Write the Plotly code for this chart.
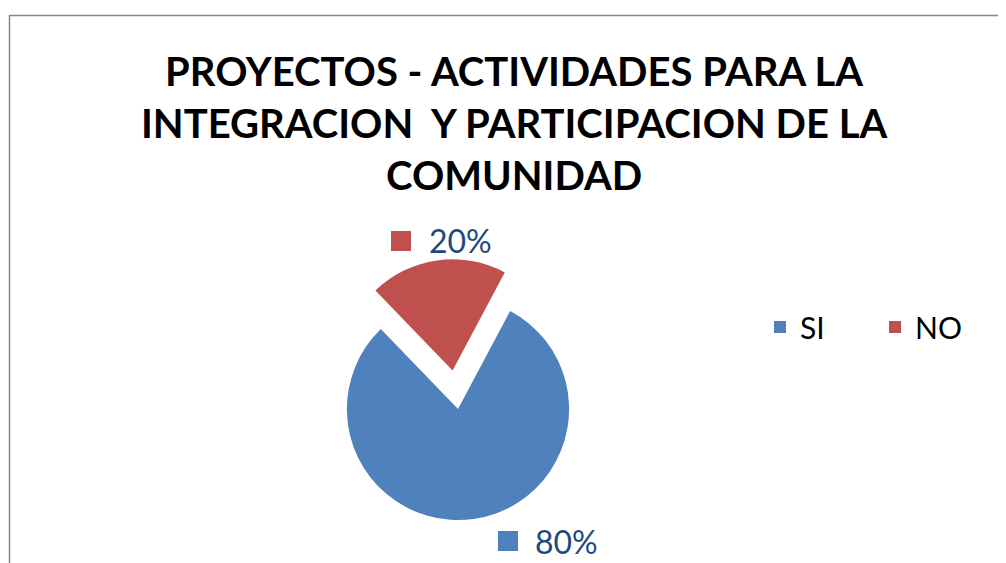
import plotly.graph_objects as go

labels = ["SI", "NO"]
values = [80, 20]
colors = ["#4F81BD", "#C0504D"]
pulls = [0, 0.35]
title_lines = ["PROYECTOS - ACTIVIDADES PARA LA", "INTEGRACION  Y PARTICIPACION DE LA", "COMUNIDAD"]

W, H = 1006, 563
OFF = 8  # page body margin offset


def px(x):
    return (x - OFF) / W


def py(y):
    return 1 - (y - OFF) / H


total = sum(values)
pct_text = ["%d%%" % round(v * 100 / total) for v in values]

fig = go.Figure(go.Pie(
    labels=labels,
    values=values,
    marker=dict(colors=colors, line=dict(width=0)),
    pull=pulls,
    sort=False,
    direction="clockwise",
    rotation=28,
    textinfo="none",
    automargin=False,
    domain=dict(x=[px(308), px(608)], y=[py(559), py(259)]),
    showlegend=True,
))

# data label positions (window pixels): square centre and text left edge
label_sq = [(508, 541), (401, 241)]
label_tx = [(533, 541), (427, 241)]

annotations = [dict(
    text="<b>" + "<br>".join(title_lines) + "</b>",
    xref="paper", yref="paper", x=px(513.5), y=py(123),
    xanchor="center", yanchor="middle", showarrow=False,
    font=dict(family="Lato", size=40, color="black"),
)]
for i in range(len(values)):
    sx, sy = label_sq[i]
    tx, ty = label_tx[i]
    annotations.append(dict(
        text=" ", xref="paper", yref="paper", x=px(sx), y=py(sy),
        xanchor="center", yanchor="middle", showarrow=False,
        width=20, height=20, bgcolor=colors[i], borderpad=0, borderwidth=0,
        font=dict(size=2),
    ))
    annotations.append(dict(
        text=pct_text[i], xref="paper", yref="paper", x=px(tx), y=py(ty),
        xanchor="left", yanchor="middle", showarrow=False,
        font=dict(family="Lato", size=32, color="#1F497D"),
    ))

fig.update_layout(
    width=W, height=H,
    margin=dict(l=0, r=0, t=0, b=0),
    paper_bgcolor="white",
    plot_bgcolor="white",
    legend=dict(
        orientation="h",
        x=px(760), xanchor="left",
        y=py(327), yanchor="middle",
        font=dict(family="Lato", size=30, color="black"),
        entrywidth=70, entrywidthmode="pixels",
        bgcolor="rgba(0,0,0,0)",
    ),
    annotations=annotations,
    shapes=[dict(
        type="rect", xref="paper", yref="paper",
        x0=px(9.5), x1=1.1, y0=-0.1, y1=py(15.5),
        line=dict(color="#868686", width=1.5),
    )],
)

fig.write_html("out.html")
